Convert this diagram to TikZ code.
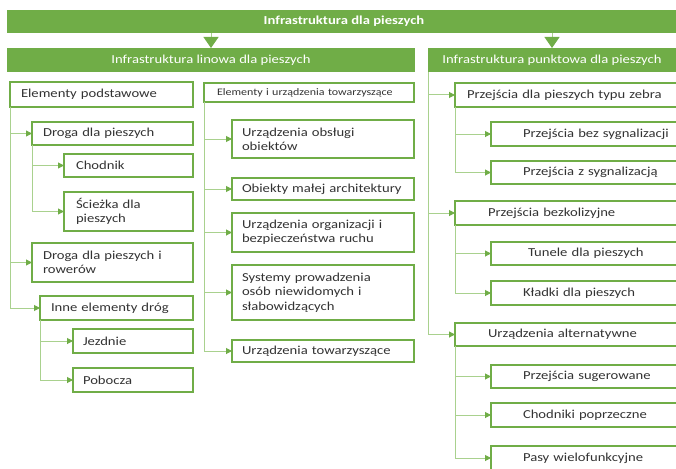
\documentclass[tikz,border=0pt]{standalone}
\usepackage{fontspec}
\setmainfont{Carlito}[FakeStretch=1.2]
\usetikzlibrary{arrows.meta}
\definecolor{barGreen}{HTML}{70AD47}
\definecolor{lineGreen}{HTML}{A9D18E}
\definecolor{textGray}{HTML}{333333}

\begin{document}
\begin{tikzpicture}[x=1pt, y=-1pt,
  bar/.style={fill=barGreen, text=white, anchor=north west, inner sep=0pt, outer sep=0pt, font=\fontsize{12.2}{14.3}\selectfont},
  box/.style={draw=barGreen, line width=1.5pt, fill=white, text=textGray, anchor=north west, align=left, inner ysep=0pt, outer sep=0pt, font=\fontsize{12.2}{14.3}\selectfont},
  link/.style={draw=lineGreen, line width=1pt, -{Triangle[width=6pt,length=6pt,color=barGreen]}},
  drop/.style={draw=lineGreen, line width=1pt, -{Triangle[width=15pt,length=11pt,color=barGreen]}}]
\useasboundingbox (0,0) rectangle (676,468);
\clip (0,0) rectangle (676,468);

% Header bars
\node[bar, minimum width=674pt, minimum height=23pt, font=\fontsize{12.2}{14.3}\selectfont\bfseries] (ipz) at (7,10) {Infrastruktura dla pieszych};
\node[bar, minimum width=408pt, minimum height=24pt] (lin) at (7,48) {Infrastruktura linowa dla pieszych};
\node[bar, minimum width=248pt, minimum height=24pt] (pkt) at (428,48) {Infrastruktura punktowa dla pieszych};
\draw[drop] (lin.north |- ipz.south) -- (lin.north);
\draw[drop] (pkt.north |- ipz.south) -- (pkt.north);

% Left column: basic elements
\node[box, text width=161pt, inner xsep=11pt, minimum height=25pt] (ep) at (10,82) {Elementy podstawowe};
\node[box, text width=139pt, inner xsep=11pt, minimum height=23pt] (dp) at (32,122) {Droga dla pieszych};
\node[box, text width=105pt, inner xsep=12pt, minimum height=23pt] (ch) at (64,154) {Chodnik};
\node[box, text width=105pt, inner xsep=12pt, minimum height=39pt] (sc) at (64,192) {Ścieżka dla\\pieszych};
\node[box, text width=139pt, inner xsep=11pt, minimum height=39pt] (dr) at (32,243) {Droga dla pieszych i\\rowerów};
\node[box, text width=131pt, inner xsep=11pt, minimum height=24pt] (ie) at (40,296) {Inne elementy dróg};
\node[box, text width=100pt, inner xsep=10pt, minimum height=24pt] (jz) at (73,329) {Jezdnie};
\node[box, text width=100pt, inner xsep=10pt, minimum height=24pt] (pb) at (73,368) {Pobocza};
\foreach \kid in {dp,dr,ie} \draw[link] (ep.south west) |- (\kid.west);
\foreach \kid in {ch,sc} \draw[link] (dp.south west) |- (\kid.west);
\foreach \kid in {jz,pb} \draw[link] (ie.south west) |- (\kid.west);

% Middle column: accompanying elements
\node[box, text width=184pt, inner xsep=13pt, minimum height=19pt, font=\fontsize{10}{12}\selectfont] (et) at (204,83) {Elementy i urządzenia towarzyszące};
\node[box, text width=162pt, inner xsep=10pt, minimum height=38pt] (uo) at (232,120) {Urządzenia obsługi\\obiektów};
\node[box, text width=162pt, inner xsep=10pt, minimum height=22pt] (om) at (232,178) {Obiekty małej architektury};
\node[box, text width=162pt, inner xsep=10pt, minimum height=39pt] (ub) at (232,213) {Urządzenia organizacji i\\bezpieczeństwa ruchu};
\node[box, text width=162pt, inner xsep=10pt, minimum height=55pt] (sp) at (232,265) {Systemy prowadzenia\\osób niewidomych i\\słabowidzących};
\node[box, text width=162pt, inner xsep=10pt, minimum height=22pt] (ut) at (232,340) {Urządzenia towarzyszące};
\foreach \kid in {uo,om,ub,sp,ut} \draw[link] (et.south west) |- (\kid.west);

% Right column: point infrastructure
\node[box, text width=216pt, inner xsep=12pt, minimum height=24pt] (zb) at (455,83) {Przejścia dla pieszych typu zebra};
\node[box, text width=150pt, inner xsep=32pt, minimum height=24pt] (bs) at (491,122) {Przejścia bez sygnalizacji};
\node[box, text width=150pt, inner xsep=32pt, minimum height=23pt] (zs) at (491,161) {Przejścia z sygnalizacją};
\node[box, text width=182pt, inner xsep=33pt, minimum height=24pt] (bk) at (455,201) {Przejścia bezkolizyjne};
\node[box, text width=140pt, inner xsep=37pt, minimum height=23pt] (tu) at (491,242) {Tunele dla pieszych};
\node[box, text width=150pt, inner xsep=32pt, minimum height=24pt] (kl) at (491,281) {Kładki dla pieszych};
\node[box, text width=182pt, inner xsep=33pt, minimum height=23pt] (ua) at (455,323) {Urządzenia alternatywne};
\node[box, text width=150pt, inner xsep=32pt, minimum height=23pt] (ps) at (491,365) {Przejścia sugerowane};
\node[box, text width=150pt, inner xsep=32pt, minimum height=24pt] (cp) at (491,403) {Chodniki poprzeczne};
\node[box, text width=150pt, inner xsep=32pt, minimum height=24pt] (pw) at (491,446) {Pasy wielofunkcyjne};
\foreach \kid in {zb,bk,ua} \draw[link] (pkt.south west) |- (\kid.west);
\foreach \kid in {bs,zs} \draw[link] (zb.south west) |- (\kid.west);
\foreach \kid in {tu,kl} \draw[link] (bk.south west) |- (\kid.west);
\foreach \kid in {ps,cp,pw} \draw[link] (ua.south west) |- (\kid.west);
\end{tikzpicture}
\end{document}
